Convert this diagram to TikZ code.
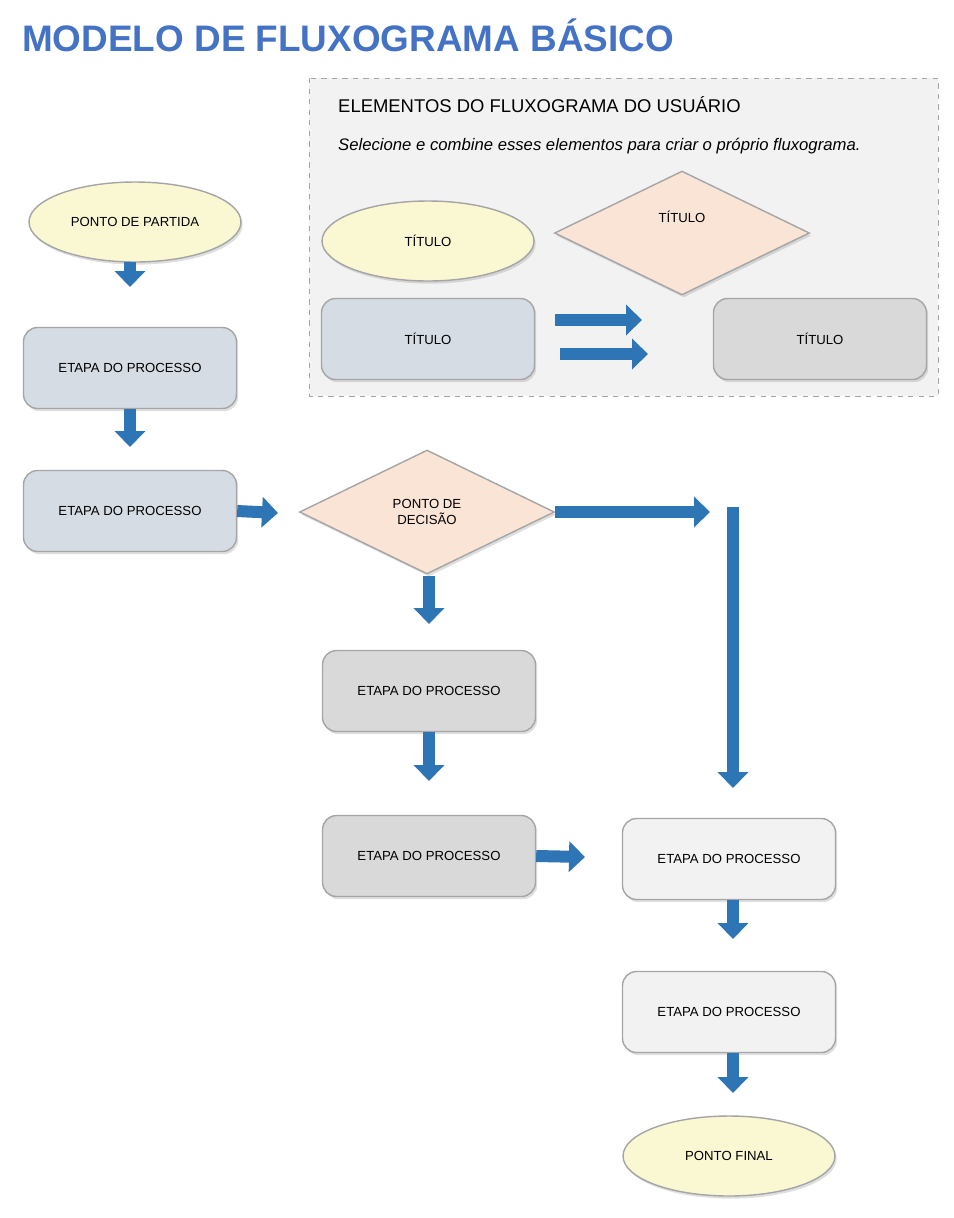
\documentclass[tikz,border=0pt]{standalone}
\usepackage{fontspec}
\setmainfont{Liberation Sans}
\usetikzlibrary{arrows.meta,shapes.geometric,shadows,positioning}
\definecolor{azulTitulo}{RGB}{68,114,196}
\definecolor{azulSeta}{RGB}{46,117,182}
\definecolor{amarelo}{RGB}{250,248,210}
\definecolor{pessego}{RGB}{250,228,213}
\definecolor{cinzaAzul}{RGB}{214,220,228}
\definecolor{cinza}{RGB}{217,217,217}
\definecolor{cinzaClaro}{RGB}{242,242,242}
\definecolor{borda}{RGB}{165,165,165}
\tikzset{
  base/.style={draw=borda, line width=0.8pt, font=\fontsize{7.5}{9}\selectfont,
               align=center, inner sep=0pt,
               drop shadow={opacity=0.25, shadow xshift=1pt, shadow yshift=-1.5pt}},
  term/.style={base, ellipse, fill=amarelo, minimum width=4.24cm, minimum height=1.6cm},
  etapa/.style={base, rounded corners=8pt, minimum width=4.26cm, minimum height=1.62cm},
  decisao/.style={base, diamond, aspect=2, fill=pessego, minimum width=5.1cm, minimum height=2.48cm},
  seta/.style={line width=0.24cm, draw=azulSeta,
               -{Triangle[width=0.6cm,length=0.32cm]}},
}
\begin{document}
\begin{tikzpicture}[x=0.02cm,y=-0.02cm]
\useasboundingbox (0,0) rectangle (954,1218);
\node[anchor=west, text=azulTitulo, font=\fontsize{21}{24}\selectfont\bfseries] (titulo) at (16,35) {MODELO DE FLUXOGRAMA BÁSICO};

% elementos
\draw[draw=borda, dashed, fill=cinzaClaro] (309,78) rectangle (938,396);
\node[anchor=west, font=\fontsize{10.5}{12}\selectfont] (elem) at (332,105) {ELEMENTOS DO FLUXOGRAMA DO USUÁRIO};
\node[anchor=west, font=\fontsize{9.5}{12}\selectfont\itshape] (instr) at (332,146) {Selecione e combine esses elementos para criar o próprio fluxograma.};
\node[term] (eTerm) at (428,241) {TÍTULO};
\node[decisao] (eDec) at (682,233) {TÍTULO\\[10pt]};
\node[etapa, fill=cinzaAzul] (eEtapa) at (428,339) {TÍTULO};
\node[etapa, fill=cinza] (eCinza) at (820,339) {TÍTULO};
\coordinate (a1) at (555,320); \coordinate (b1) at (642,320);
\coordinate (a2) at (560,354); \coordinate (b2) at (648,354);
\draw[seta] (a1) -- (b1);
\draw[seta] (a2) -- (b2);

% fluxo
\node[term] (partida) at (135,222) {PONTO DE PARTIDA};
\node[etapa, fill=cinzaAzul] (p1) at (130,368) {ETAPA DO PROCESSO};
\node[etapa, fill=cinzaAzul] (p2) at (130,511) {ETAPA DO PROCESSO};
\node[decisao] (dec) at (427,512) {PONTO DE\\DECISÃO};
\node[etapa, fill=cinza] (p3) at (429,691) {ETAPA DO PROCESSO};
\node[etapa, fill=cinza] (p4) at (429,856) {ETAPA DO PROCESSO};
\node[etapa, fill=cinzaClaro] (p5) at (729,859) {ETAPA DO PROCESSO};
\node[etapa, fill=cinzaClaro] (p6) at (729,1012) {ETAPA DO PROCESSO};
\node[term] (final) at (729,1156) {PONTO FINAL};
\coordinate (d1) at (710,512);
\coordinate (v1) at (733,507); \coordinate (v2) at (733,788);

\draw[seta, shorten >=20\pgflinewidth/12] (130,262) -- (130,307);
\draw[seta] (130,409) -- (130,447);
\draw[seta] (p2.east) -- (278,513);
\draw[seta] (dec.east) -- (d1);
\draw[seta] (v1) -- (v2);
\draw[seta] (429,576) -- (429,624);
\draw[seta] (p3.south) -- (429,781);
\draw[seta] (p4.east) -- (585,857);
\draw[seta] (733,900) -- (733,939);
\draw[seta] (733,1053) -- (733,1093);
\end{tikzpicture}
\end{document}
